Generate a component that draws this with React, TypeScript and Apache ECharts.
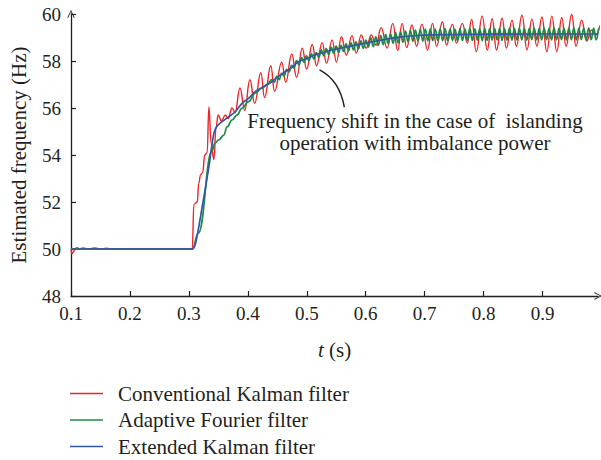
import { useEffect, useRef } from "react";
import * as echarts from "echarts";

// Axis ticks
const X_TICKS = [0.1, 0.2, 0.3, 0.4, 0.5, 0.6, 0.7, 0.8, 0.9];
const X_MIN = 0.1;
const X_MAX = 0.994;
const Y_MIN = 48;
const Y_MAX = 60;
const Y_STEP = 2;

const SERIES_NAMES = [
  "Conventional Kalman filter",
  "Adaptive Fourier filter",
  "Extended Kalman filter",
];

// Conventional Kalman filter: estimated frequency (t [s], f [Hz])
const RED: [number, number][] = [
  [0.1, 50], [0.1017, 49.8], [0.104, 49.86], [0.1065, 50.0], [0.11, 50.06], [0.115, 50.0],
  [0.12, 50.05], [0.13, 50.0], [0.14, 50.04], [0.15, 50.0], [0.16, 50.03], [0.17, 50.0],
  [0.3057, 50.0], [0.3085, 51.9], [0.3142, 52.0], [0.3167, 52.8], [0.3197, 53.15],
  [0.3234, 53.25], [0.3268, 54.0], [0.331, 54.1], [0.3339, 56.05], [0.3378, 54.5],
  [0.3423, 53.8], [0.3462, 55.2], [0.3496, 55.7], [0.3551, 55.45], [0.3619, 55.7],
  [0.3664, 55.55], [0.3732, 56.0], [0.3782, 55.8], [0.3867, 56.85], [0.3946, 55.9],
  [0.4035, 57.2], [0.4115, 56.2], [0.4221, 57.5], [0.4283, 56.45], [0.439, 57.8],
  [0.4452, 56.7], [0.4575, 57.95], [0.4643, 57.1], [0.4744, 58.3], [0.4828, 57.3],
  [0.4924, 58.55], [0.4997, 57.65], [0.5093, 58.7], [0.5165, 57.8], [0.5261, 58.78],
  [0.5334, 57.9], [0.543, 58.9], [0.5503, 57.95], [0.5587, 59.03], [0.5671, 58.25],
  [0.5767, 59.08], [0.584, 58.34], [0.5924, 59.11], [0.6008, 58.55], [0.6093, 59.11],
  [0.6177, 58.68], [0.6261, 59.42], [0.6363, 58.55], [0.6459, 59.6], [0.6543, 58.44],
  [0.6616, 59.6], [0.6695, 58.57], [0.6784, 59.53], [0.6863, 58.63], [0.6953, 59.57],
  [0.7049, 58.47], [0.7133, 59.6], [0.7201, 58.63], [0.7302, 59.67], [0.7369, 58.68],
  [0.7471, 59.57], [0.7538, 58.76], [0.7639, 59.6], [0.7724, 58.76], [0.7796, 59.77],
  [0.7875, 58.4], [0.7976, 59.91], [0.8061, 58.47], [0.8145, 59.8], [0.8218, 58.47],
  [0.8314, 59.82], [0.8386, 58.55], [0.8482, 59.74], [0.8555, 58.63], [0.8651, 59.95],
  [0.8735, 58.47], [0.8819, 59.78], [0.8904, 58.63], [0.8988, 59.87], [0.9072, 58.4],
  [0.9157, 59.91], [0.9241, 58.4], [0.9325, 59.85], [0.9398, 58.63], [0.9494, 59.98],
  [0.9567, 58.63], [0.9663, 59.74], [0.9747, 58.85], [0.9831, 59.32], [0.9904, 59.1],
  [0.9971, 59.5],
];

// Adaptive Fourier filter: step response before the ripple sets in
const GREEN_HEAD: [number, number][] = [
  [0.1, 50], [0.3057, 50], [0.3159, 50.67], [0.3395, 54.2], [0.344, 54.5], [0.3507, 54.64],
  [0.3592, 54.85], [0.3648, 55.2], [0.3732, 55.49], [0.3816, 55.7], [0.39, 55.99],
  [0.4013, 56.27], [0.4125, 56.63], [0.4238, 56.84], [0.4322, 56.98],
];

// Adaptive Fourier filter: ripple extrema, sampled every GREEN_RIPPLE_STEP seconds
const GREEN_RIPPLE_START = 0.4406;
const GREEN_RIPPLE_STEP = 0.0042;
const GREEN_RIPPLE: number[] = [
  57.21, 57.09, 57.35, 57.21, 57.47, 57.36, 57.65, 57.54, 57.82, 57.70,
  58.02, 57.84, 58.14, 57.94, 58.22, 58.02, 58.30, 58.09, 58.36, 58.15,
  58.47, 58.22, 58.53, 58.28, 58.59, 58.33, 58.63, 58.37, 58.67, 58.41,
  58.73, 58.43, 58.77, 58.47, 58.81, 58.51, 58.86, 58.54, 58.89, 58.59,
  58.99, 58.61, 59.03, 58.66, 59.08, 58.70, 59.12, 58.74, 59.15, 58.76,
  59.21, 58.77, 59.24, 58.80, 59.27, 58.82, 59.29, 58.84, 59.31, 58.86,
  59.35, 58.85, 59.36, 58.86, 59.37, 58.87, 59.36, 58.88, 59.37, 58.87,
  59.38, 58.87, 59.37, 58.88, 59.36, 58.86, 59.38, 58.87, 59.37, 58.88,
  59.39, 58.88, 59.37, 58.89, 59.38, 58.87, 59.39, 58.88, 59.38, 58.89,
  59.38, 58.90, 59.39, 58.88, 59.38, 58.89, 59.40, 58.89, 59.39, 58.90,
  59.39, 58.90, 59.40, 58.89, 59.39, 58.91, 59.40, 58.90, 59.39, 58.90,
  59.40, 58.91, 59.39, 58.90, 59.41, 58.90, 59.39, 58.91, 59.40, 58.90,
  59.40, 58.91, 59.41, 58.90, 59.39, 58.91, 59.40, 58.90, 59.41, 58.91,
  59.40, 58.90, 59.39,
];

// Extended Kalman filter
const BLUE: [number, number][] = [
  [0.1, 50], [0.3057, 50], [0.3113, 50.24], [0.3226, 51.8], [0.3339, 53.5], [0.3423, 54.92],
  [0.3479, 55.23], [0.3563, 55.42], [0.3676, 55.63], [0.3788, 55.84], [0.39, 56.2],
  [0.4013, 56.41], [0.4125, 56.7], [0.4266, 56.91], [0.4406, 57.12], [0.4575, 57.45],
  [0.4744, 57.72], [0.4856, 57.97], [0.5, 58.1], [0.5137, 58.26], [0.53, 58.37],
  [0.5418, 58.47], [0.556, 58.54], [0.57, 58.61], [0.584, 58.68], [0.598, 58.75],
  [0.612, 58.82], [0.6261, 58.89], [0.643, 58.96], [0.66, 59.03], [0.68, 59.07],
  [0.7, 59.1], [0.73, 59.12], [0.77, 59.13], [0.82, 59.14], [0.88, 59.15], [0.994, 59.15],
];

// Annotation text and its pointer, in data coordinates
const NOTE_LINES = ["Frequency shift in the case of  islanding", "operation with imbalance power"];
const NOTE_AT: [number, number] = [0.6835, 54.98];
const POINTER_FROM: [number, number] = [0.5216, 57.62];
const POINTER_CTRL: [number, number] = [0.5553, 57.19];
const POINTER_TO: [number, number] = [0.5637, 56.04];

const COLORS = ["#ee2428", "#1d8b43", "#3556a6"];
const INK = "#231f20";
const FONT = "'Liberation Serif', 'DejaVu Serif', serif";

const chevron = "path://M0,10 L5,0 L10,10 L9,10.8 L5,2.4 L1,10.8 Z";

export default function App() {
  const ref = useRef<HTMLDivElement>(null);

  useEffect(() => {
    document.body.style.margin = "0";
    document.body.style.overflow = "hidden";
    const chart = echarts.init(ref.current!, null, { renderer: "svg" });

    const green: [number, number][] = [
      ...GREEN_HEAD,
      ...GREEN_RIPPLE.map((v, i) => [GREEN_RIPPLE_START + i * GREEN_RIPPLE_STEP, v] as [number, number]),
    ];

    chart.setOption({
      animation: false,
      grid: { left: 68, right: 3, top: 14, bottom: 164, containLabel: false },
      legend: {
        orient: "vertical",
        left: 70,
        top: 383,
        height: 77,
        padding: 0,
        icon: "rect",
        itemWidth: 33,
        itemHeight: 1.6,
        itemGap: 5.5,
        data: SERIES_NAMES,
        textStyle: { fontFamily: FONT, fontSize: 21, color: INK, lineHeight: 20, padding: [0, 0, 0, 10] },
      },
      xAxis: {
        type: "value",
        min: X_MIN,
        max: X_MAX,
        interval: 0.1,
        name: "{i|t} (s)",
        nameLocation: "middle",
        nameGap: 43,
        nameTextStyle: {
          fontFamily: FONT,
          fontSize: 21,
          color: INK,
          rich: { i: { fontFamily: FONT, fontSize: 21, fontStyle: "italic", color: INK } },
        },
        axisLine: {
          lineStyle: { color: INK, width: 1.3 },
          symbol: ["none", chevron],
          symbolSize: [12, 8],
        },
        axisTick: { inside: true, length: 5, lineStyle: { color: INK, width: 1.2 }, customValues: X_TICKS },
        axisLabel: {
          fontFamily: FONT,
          fontSize: 19,
          color: INK,
          margin: 8,
          customValues: X_TICKS,
          formatter: (v: number) => v.toFixed(1),
        },
        splitLine: { show: false },
      },
      yAxis: {
        type: "value",
        min: Y_MIN,
        max: Y_MAX,
        interval: Y_STEP,
        name: "Estimated frequency (Hz)",
        nameLocation: "middle",
        nameGap: 42,
        nameTextStyle: { fontFamily: FONT, fontSize: 21, color: INK },
        axisLine: {
          show: true,
          lineStyle: { color: INK, width: 1.3 },
          symbol: ["none", chevron],
          symbolSize: [12, 8],
        },
        axisTick: { show: true, inside: true, length: 5, lineStyle: { color: INK, width: 1.2 } },
        axisLabel: { fontFamily: FONT, fontSize: 19, color: INK, margin: 10 },
        splitLine: { show: false },
      },
      series: [
        {
          name: SERIES_NAMES[0],
          type: "line",
          data: RED,
          symbol: "none",
          smooth: 0.45,
          smoothMonotone: "x",
          lineStyle: { color: COLORS[0], width: 1.4 },
          itemStyle: { color: COLORS[0] },
          z: 2,
        },
        {
          name: SERIES_NAMES[1],
          type: "line",
          data: green,
          symbol: "none",
          smooth: 0.45,
          smoothMonotone: "x",
          lineStyle: { color: COLORS[1], width: 1.7 },
          itemStyle: { color: COLORS[1] },
          z: 3,
        },
        {
          name: SERIES_NAMES[2],
          type: "line",
          data: BLUE,
          symbol: "none",
          smooth: 0.3,
          lineStyle: { color: COLORS[2], width: 1.7 },
          itemStyle: { color: COLORS[2] },
          z: 4,
        },
      ],
    });

    const px = (p: [number, number]) => chart.convertToPixel({ gridIndex: 0 }, p) as number[];
    const note = px(NOTE_AT);
    const a = px(POINTER_FROM);
    const c = px(POINTER_CTRL);
    const b = px(POINTER_TO);

    chart.setOption({
      graphic: [
        {
          type: "text",
          x: note[0],
          y: note[1],
          z: 10,
          style: {
            text: NOTE_LINES.join("\n"),
            align: "center",
            verticalAlign: "middle",
            fontFamily: FONT,
            fontSize: 21,
            lineHeight: 22,
            fill: INK,
          },
        },
        {
          type: "bezierCurve",
          z: 10,
          shape: { x1: a[0], y1: a[1], x2: b[0], y2: b[1], cpx1: c[0], cpy1: c[1] },
          style: { stroke: INK, lineWidth: 1.5, fill: "none" },
        },
      ],
    });

    return () => chart.dispose();
  }, []);

  return <div ref={ref} style={{ width: 601, height: 460 }} />;
}
